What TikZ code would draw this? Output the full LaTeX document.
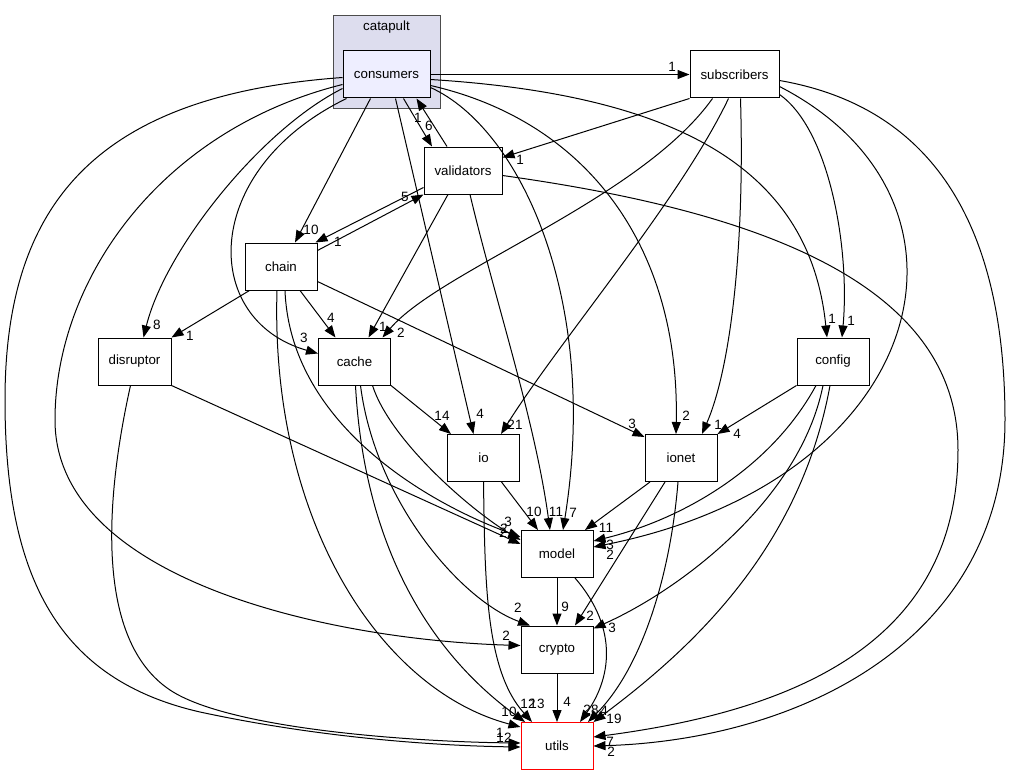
\documentclass[tikz,border=0pt]{standalone}
\usepackage{fontspec}
\setmainfont{Liberation Sans}
\usetikzlibrary{arrows.meta}
\definecolor{clusterfill}{HTML}{DDDDEE}
\definecolor{dirfill}{HTML}{EEEEFF}

\begin{document}
\begin{tikzpicture}[
    x=1pt, y=-1pt,
    dirbox/.style={rectangle,draw=black,line width=1pt,fill=white,minimum width=72pt,minimum height=47pt,inner sep=0pt,font=\fontsize{13.3}{15}\selectfont},
    clusterbox/.style={rectangle,draw=black!70,line width=1pt,fill=clusterfill,minimum width=107pt,minimum height=93pt,inner sep=0pt},
    dep/.style={-{Triangle[length=12pt,width=9pt]},line width=1pt},
    lbl/.style={inner sep=0pt,font=\fontsize{13.5}{15}\selectfont},
]
\fill[white] (0,0) rectangle (1013,776);
\useasboundingbox (0,0) rectangle (1013,776);

% ===== Cluster =====
\node[clusterbox] (catapult) at (386.5,62.5) {};
\node[lbl,font=\fontsize{13.3}{15}\selectfont] (catapulttitle) at (386.5,27.5) {catapult};

% ===== Directories =====
\node[dirbox,fill=dirfill,minimum width=87pt] (consumers) at (386.5,74.5) {consumers};
\node[dirbox,minimum width=89pt] (subscribers) at (734.5,74.5) {subscribers};
\node[dirbox,minimum width=78pt] (validators) at (463,170.5) {validators};
\node[dirbox] (chain) at (281,266.5) {chain};
\node[dirbox,minimum width=73pt] (disruptor) at (134.5,361.5) {disruptor};
\node[dirbox] (cache) at (354.5,361.5) {cache};
\node[dirbox] (config) at (833,361.5) {config};
\node[dirbox] (io) at (483.5,458) {io};
\node[dirbox] (ionet) at (681,458) {ionet};
\node[dirbox] (model) at (557,554) {model};
\node[dirbox] (crypto) at (557,649.5) {crypto};

% ===== consumers =====
\draw[dep] (consumers.east) -- (subscribers.west);
\draw[dep] ([xshift=17]consumers.south) -- ([xshift=-31]validators.north);
\draw[dep] ([xshift=-16]consumers.south) -- ([xshift=14]chain.north);
\draw[dep] ([yshift=-14]consumers.west) .. controls (260,130) and (165,250) .. ([xshift=9]disruptor.north);
\draw[dep] ([xshift=-40]consumers.south) .. controls (200,170) and (200,320) .. ([yshift=8]cache.west);
\draw[dep] ([xshift=9]consumers.south) -- ([xshift=-10]io.north);
\draw[dep] ([yshift=-13]consumers.east) .. controls (520,128) and (600,300) .. ([xshift=6]model.north);
\draw[dep] ([yshift=-11]consumers.east) .. controls (590,122) and (680,250) .. ([xshift=-5]ionet.north);
\draw[dep] ([yshift=-5]consumers.east) .. controls (680,95) and (810,170) .. ([xshift=-6]config.north);
\draw[dep] ([yshift=-10]consumers.west) .. controls (160,130) and (55,280) .. (55,420)
    .. controls (55,580) and (330,640) .. ([yshift=4]crypto.west);

% utils drawn here so that its red frame stays visible under the arrow tips
\node[dirbox,draw=red] (utils) at (557,746) {utils};
\draw[dep] ([yshift=-3]consumers.west) .. controls (100,95) and (5,200) .. (5,400)
    .. controls (5,580) and (60,680) .. (200,712) .. controls (330,740) and (450,746) .. ([yshift=-1]utils.west);

% ===== subscribers =====
\draw[dep] (subscribers.south west) -- ([yshift=13]validators.east);
\draw[dep] ([xshift=-22]subscribers.south) .. controls (640,200) and (440,270) .. ([xshift=28]cache.north);
\draw[dep] ([xshift=-6]subscribers.south) .. controls (680,200) and (560,340) .. ([xshift=-19]io.north east);
\draw[dep] ([xshift=6]subscribers.south) .. controls (745,250) and (730,370) .. ([xshift=21]ionet.north);
\draw[dep] ([yshift=-20]subscribers.east) .. controls (830,130) and (850,250) .. ([xshift=9]config.north);
\draw[dep] ([yshift=-12]subscribers.east) .. controls (1000,200) and (930,480) .. ([yshift=7]model.east);
\draw[dep] ([yshift=-6]subscribers.east) .. controls (950,110) and (1005,250) .. (1005,420)
    .. controls (1005,640) and (800,740) .. (utils.east);

% ===== validators =====
\draw[dep] ([xshift=-16]validators.north) -- ([xshift=30]consumers.south);
\draw[dep] ([yshift=-17]validators.west) -- ([xshift=-2]chain.north east);
\draw[dep] ([xshift=-15]validators.south) -- ([xshift=14]cache.north);
\draw[dep] ([xshift=7]validators.south) .. controls (495,300) and (535,420) .. ([xshift=-7]model.north);
\draw[dep] ([yshift=-5]validators.east) .. controls (750,210) and (958,280) .. (958,450)
    .. controls (958,640) and (800,710) .. ([yshift=9]utils.east);

% ===== chain =====
\draw[dep] ([yshift=-8]chain.north east) -- (validators.south west);
\draw[dep] ([xshift=5]chain.south west) -- (disruptor.north east);
\draw[dep] ([xshift=19]chain.south) -- ([xshift=-19]cache.north);
\draw[dep] ([yshift=-15]chain.east) -- ([yshift=-3]ionet.north west);
\draw[dep] ([xshift=4]chain.south) .. controls (290,420) and (420,500) .. ([yshift=17]model.west);
\draw[dep] ([xshift=-4]chain.south) .. controls (270,520) and (380,690) .. ([yshift=19]utils.west);

% ===== disruptor =====
\draw[dep] (disruptor.south east) -- ([yshift=10]model.west);
\draw[dep] ([xshift=-4]disruptor.south) .. controls (105,500) and (95,640) .. (170,690)
    .. controls (230,730) and (420,742) .. ([yshift=3]utils.west);

% ===== cache =====
\draw[dep] (cache.south east) -- ([xshift=4]io.north west);
\draw[dep] ([xshift=18]cache.south) .. controls (390,440) and (470,510) .. ([yshift=14]model.west);
\draw[dep] ([xshift=6]cache.south) .. controls (375,500) and (460,600) .. ([xshift=-27]crypto.north);
\draw[dep] ([xshift=1]cache.south) .. controls (365,560) and (440,660) .. ([xshift=-32]utils.north);

% ===== config =====
\draw[dep] (config.south west) -- (ionet.north east);
\draw[dep] ([xshift=-17]config.south) .. controls (770,470) and (680,520) .. ([yshift=13]model.east);
\draw[dep] ([xshift=-10]config.south) .. controls (800,500) and (680,590) .. ([yshift=-3]crypto.north east);
\draw[dep] ([xshift=-3]config.south) .. controls (800,550) and (690,650) .. (utils.north east);

% ===== io / ionet =====
\draw[dep] ([xshift=18]io.south) -- ([xshift=-19]model.north);
\draw[dep] (io.south) .. controls (485,580) and (485,670) .. ([xshift=-25]utils.north);
\draw[dep] ([xshift=-31]ionet.south) -- ([xshift=28]model.north);
\draw[dep] ([xshift=-16]ionet.south) -- ([xshift=18]crypto.north);
\draw[dep] ([xshift=-3]ionet.south) .. controls (670,580) and (640,670) .. ([xshift=31]utils.north);

% ===== model / crypto =====
\draw[dep] (model.south) -- (crypto.north);
\draw[dep] ([xshift=18]model.south) .. controls (620,630) and (610,680) .. ([xshift=23]utils.north);
\draw[dep] (crypto.south) -- (utils.north);

% ===== Edge counts =====
\node[lbl] (n-cons-subs) at (672,67) {1};
\node[lbl] (n-cons-vali) at (418,118) {1};
\node[lbl] (n-vali-cons) at (429,126) {6};
\node[lbl] (n-cons-chai) at (311,230) {10};
\node[lbl] (n-vali-chai) at (338,242) {1};
\node[lbl] (n-chai-vali) at (405,197) {5};
\node[lbl] (n-cons-disr) at (157,325) {8};
\node[lbl] (n-chai-disr) at (190,336) {1};
\node[lbl] (n-cons-cach) at (304,338) {3};
\node[lbl] (n-chai-cach) at (331,318) {4};
\node[lbl] (n-vali-cach) at (383,327) {1};
\node[lbl] (n-subs-cach) at (401,333) {2};
\node[lbl] (n-cons-io) at (480,414) {4};
\node[lbl] (n-cach-io) at (442,416) {14};
\node[lbl] (n-subs-io) at (515,425) {21};
\node[lbl] (n-cons-mode) at (573,513) {7};
\node[lbl] (n-vali-mode) at (556,512) {11};
\node[lbl] (n-io-mode) at (534,512) {10};
\node[lbl] (n-chai-mode) at (508,522) {3};
\node[lbl] (n-cach-mode) at (504,529) {2};
\node[lbl] (n-disr-mode) at (503,533) {2};
\node[lbl] (n-chai-ione) at (632,424) {3};
\node[lbl] (n-cons-ione) at (686,416) {2};
\node[lbl] (n-subs-ione) at (718,425) {1};
\node[lbl] (n-conf-ione) at (737,434) {4};
\node[lbl] (n-cons-conf) at (832,319) {1};
\node[lbl] (n-subs-conf) at (851,321) {1};
\node[lbl] (n-subs-vali) at (520,160) {1};
\node[lbl] (n-subs-mode) at (610,555) {2};
\node[lbl] (n-conf-mode) at (610,545) {3};
\node[lbl] (n-conf-cryp) at (612,628) {3};
\node[lbl] (n-ione-cryp) at (590,616) {2};
\node[lbl] (n-ione-mode) at (606,528) {11};
\node[lbl] (n-mode-util) at (591,710) {28};
\node[lbl] (n-ione-util) at (604,711) {4};
\node[lbl] (n-conf-util) at (614,719) {19};
\node[lbl] (n-mode-cryp) at (565,607) {9};
\node[lbl] (n-cryp-util) at (567,702) {4};
\node[lbl] (n-cach-cryp) at (518,608) {2};
\node[lbl] (n-cach-util) at (528,704) {12};
\node[lbl] (n-io-util) at (537,704) {13};
\node[lbl] (n-chai-util) at (509,712) {10};
\node[lbl] (n-cons-cryp) at (506,636) {2};
\node[lbl] (n-cons-util) at (504,738) {12};
\node[lbl] (n-disr-util) at (500,733) {1};
\node[lbl] (n-vali-util) at (610,742) {7};
\node[lbl] (n-subs-util) at (611,752) {2};

\end{tikzpicture}
\end{document}
